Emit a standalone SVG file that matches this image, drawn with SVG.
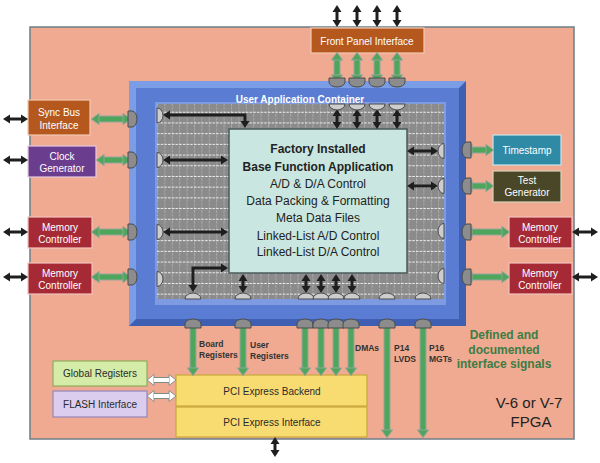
<svg xmlns="http://www.w3.org/2000/svg" xmlns:xlink="http://www.w3.org/1999/xlink" width="600" height="463" viewBox="0 0 600 463">
<style>
text{font-family:"Liberation Sans",Arial,sans-serif}
.wt{font-size:10px;fill:#fff;text-anchor:middle}
.dt{font-size:10px;fill:#2a2a2a;text-anchor:middle}
.ct{font-size:12px;fill:#222;text-anchor:middle}
.cb{font-weight:bold}
.lb{font-size:8.5px;font-weight:bold;fill:#333}
.gn{font-size:12px;font-weight:bold;fill:#3d7d45;text-anchor:middle}
.bk{fill:none;stroke:#1e1e1e;stroke-width:3;marker-start:url(#bh);marker-end:url(#bh)}
.gu{stroke:#9aa59c;stroke-width:7;fill:none}
.gt{stroke:#4ea55c;stroke-width:5;fill:none}
.d{marker-start:url(#gh);marker-end:url(#gh)}
.s{marker-end:url(#gh)}
.po{fill:#8c8c8c;stroke:#4a4a4a;stroke-width:1}
.pi{fill:#cdcdcd;stroke:#4a4a4a;stroke-width:1}
.box{stroke-width:1.2}
</style>
<defs>
<marker id="bh" markerUnits="userSpaceOnUse" viewBox="0 -5 7 10" markerWidth="7" markerHeight="10" refX="0" refY="0" orient="auto-start-reverse"><path d="M0,-4.5 L7,0 L0,4.5 z" fill="#1e1e1e"/></marker>
<marker id="gh" markerUnits="userSpaceOnUse" viewBox="-1 -7 10 14" markerWidth="10" markerHeight="14" refX="0" refY="0" orient="auto-start-reverse"><path d="M0,-5.5 L7.5,0 L0,5.5 z" fill="#4ea55c" stroke="#9aa59c" stroke-width="0.9"/></marker>
<marker id="wh" markerUnits="userSpaceOnUse" viewBox="-1 -7 10 14" markerWidth="10" markerHeight="14" refX="0" refY="0" orient="auto-start-reverse"><path d="M0,-5.5 L7,0 L0,5.5 z" fill="#fff" stroke="#7d8a8a" stroke-width="0.9"/></marker>
<pattern id="grid" patternUnits="userSpaceOnUse" x="157" y="104" width="7.4" height="10.7">
<rect width="7.4" height="10.7" fill="#8b8b8b"/>
<line x1="0.5" y1="0" x2="0.5" y2="10.7" stroke="#b4b4b4" stroke-width="0.8" stroke-dasharray="2,1.2"/>
<line x1="0" y1="8.3" x2="7.4" y2="8.3" stroke="#f2f2f2" stroke-width="1" stroke-dasharray="2.5,1.2"/>
</pattern>
<g id="gl">
<line class="d" x1="99" y1="119" x2="123" y2="119"/>
<line class="d" x1="104" y1="160" x2="123" y2="160"/>
<line class="d" x1="99" y1="232" x2="123" y2="232"/>
<line class="d" x1="99" y1="277" x2="123" y2="277"/>
<line class="d" x1="472" y1="150" x2="486" y2="150"/>
<line class="d" x1="472" y1="186" x2="486" y2="186"/>
<line class="d" x1="472" y1="232" x2="502" y2="232"/>
<line class="d" x1="472" y1="277" x2="502" y2="277"/>
<line class="d" x1="337" y1="60" x2="337" y2="75"/>
<line class="d" x1="357" y1="60" x2="357" y2="75"/>
<line class="d" x1="377" y1="60" x2="377" y2="75"/>
<line class="d" x1="397" y1="60" x2="397" y2="75"/>
<line class="s" x1="193" y1="322" x2="193" y2="368"/>
<line class="s" x1="243" y1="322" x2="243" y2="368"/>
<line class="s" x1="305" y1="322" x2="305" y2="368"/>
<line class="s" x1="321" y1="322" x2="321" y2="368"/>
<line class="s" x1="336" y1="322" x2="336" y2="368"/>
<line class="s" x1="351" y1="322" x2="351" y2="368"/>
<line class="s" x1="387" y1="322" x2="387" y2="430"/>
<line class="s" x1="423" y1="322" x2="423" y2="430"/>
</g>
</defs>

<g id="fpga">
<rect x="30" y="27" width="544" height="412" fill="#efaa91" stroke="#6e7d88" stroke-width="1.5"/>
<text x="529" y="408" font-size="15" fill="#222" text-anchor="middle">V-6 or V-7</text>
<text x="531" y="427" font-size="15" fill="#222" text-anchor="middle">FPGA</text>
</g>

<g id="container">
<rect x="129" y="81" width="337" height="245" fill="#3f60b2"/>
<polygon points="129,81 466,81 459,88 136,88 136,319 129,326" fill="#7b9de6"/>
<rect x="136" y="88" width="323" height="231" fill="#5a7dd3"/>
<rect x="155" y="102" width="291" height="203" fill="#7e9be2"/>
<rect x="157" y="104" width="287" height="195" fill="url(#grid)"/>
<text x="300" y="103" font-size="10" font-weight="bold" fill="#fff" text-anchor="middle">User Application Container</text>
</g>

<g id="base-function">
<rect x="229" y="129" width="178" height="144" fill="#c9e7e0" stroke="#4a5a58" stroke-width="1.5"/>
<text class="ct cb" x="318" y="153">Factory Installed</text>
<text class="ct cb" x="318" y="171">Base Function Application</text>
<text class="ct" x="318" y="188">A/D &amp; D/A Control</text>
<text class="ct" x="318" y="205">Data Packing &amp; Formatting</text>
<text class="ct" x="318" y="222">Meta Data Files</text>
<text class="ct" x="318" y="240">Linked-List A/D Control</text>
<text class="ct" x="318" y="256">Linked-List D/A Control</text>
</g>

<g id="front-panel">
<rect class="box" x="311" y="28" width="113" height="25" fill="#b4581e" stroke="#f4c9b2"/>
<text class="wt" x="367" y="45">Front Panel Interface</text>
</g>
<g id="sync-bus">
<rect class="box" x="28" y="100" width="62" height="35" fill="#b4581e" stroke="#f4c9b2"/>
<text class="wt" x="59" y="116">Sync Bus</text>
<text class="wt" x="59" y="129">Interface</text>
</g>
<g id="clock-gen">
<rect class="box" x="28" y="146" width="68" height="31" fill="#6a3d8f" stroke="#e9c8e0"/>
<text class="wt" x="62" y="160">Clock</text>
<text class="wt" x="62" y="172">Generator</text>
</g>
<g id="mem-ctrl-l1">
<rect class="box" x="28" y="217" width="64" height="31" fill="#a52a36" stroke="#f2c4bc"/>
<text class="wt" x="60" y="231">Memory</text>
<text class="wt" x="60" y="243">Controller</text>
</g>
<g id="mem-ctrl-l2">
<rect class="box" x="28" y="263" width="64" height="31" fill="#a52a36" stroke="#f2c4bc"/>
<text class="wt" x="60" y="277">Memory</text>
<text class="wt" x="60" y="289">Controller</text>
</g>
<g id="timestamp">
<rect class="box" x="493" y="135" width="68" height="30" fill="#2f8aa6" stroke="#c8e4ec"/>
<text class="wt" x="527" y="154">Timestamp</text>
</g>
<g id="test-gen">
<rect class="box" x="493" y="171" width="68" height="31" fill="#4a4628" stroke="#d8d2b8"/>
<text class="wt" x="527" y="184">Test</text>
<text class="wt" x="527" y="196">Generator</text>
</g>
<g id="mem-ctrl-r1">
<rect class="box" x="509" y="217" width="63" height="31" fill="#a52a36" stroke="#f2c4bc"/>
<text class="wt" x="540" y="231">Memory</text>
<text class="wt" x="540" y="243">Controller</text>
</g>
<g id="mem-ctrl-r2">
<rect class="box" x="509" y="263" width="63" height="31" fill="#a52a36" stroke="#f2c4bc"/>
<text class="wt" x="540" y="277">Memory</text>
<text class="wt" x="540" y="289">Controller</text>
</g>
<g id="global-registers">
<rect class="box" x="53" y="361" width="94" height="25" fill="#d5eba8" stroke="#8fae5e"/>
<text class="dt" x="100" y="377">Global Registers</text>
</g>
<g id="flash-interface">
<rect class="box" x="53" y="391" width="94" height="26" fill="#dacdee" stroke="#9486b8"/>
<text class="dt" x="100" y="408">FLASH Interface</text>
</g>
<g id="pci-backend">
<rect class="box" x="176" y="375" width="191" height="31" fill="#f8dc72" stroke="#c9a83a"/>
<text class="dt" x="272" y="395" font-size="10.5">PCI Express Backend</text>
</g>
<g id="pci-interface">
<rect class="box" x="176" y="407" width="191" height="30" fill="#f8dc72" stroke="#c9a83a"/>
<text class="dt" x="272" y="426" font-size="10.5">PCI Express Interface</text>
</g>

<g id="connectors">
<use xlink:href="#gl" href="#gl" class="gu"/>
<use xlink:href="#gl" href="#gl" class="gt"/>
<line x1="154" y1="380" x2="169" y2="380" stroke="#7d8a8a" stroke-width="6" marker-start="url(#wh)" marker-end="url(#wh)"/>
<line x1="154" y1="380" x2="169" y2="380" stroke="#fff" stroke-width="4"/>
<line x1="154" y1="396" x2="169" y2="396" stroke="#7d8a8a" stroke-width="6" marker-start="url(#wh)" marker-end="url(#wh)"/>
<line x1="154" y1="396" x2="169" y2="396" stroke="#fff" stroke-width="4"/>
<line class="bk" x1="10" y1="119" x2="21" y2="119"/>
<line class="bk" x1="10" y1="160" x2="21" y2="160"/>
<line class="bk" x1="10" y1="232" x2="21" y2="232"/>
<line class="bk" x1="10" y1="277" x2="21" y2="277"/>
<line class="bk" x1="579" y1="232" x2="591" y2="232"/>
<line class="bk" x1="579" y1="277" x2="591" y2="277"/>
<line class="bk" x1="337" y1="12" x2="337" y2="20"/>
<line class="bk" x1="357" y1="12" x2="357" y2="20"/>
<line class="bk" x1="377" y1="12" x2="377" y2="20"/>
<line class="bk" x1="397" y1="12" x2="397" y2="20"/>
<line class="bk" x1="275" y1="444" x2="275" y2="450"/>
<path class="bk" d="M170,115 H245 V121"/>
<line class="bk" x1="170" y1="160" x2="221" y2="160"/>
<line class="bk" x1="170" y1="232" x2="221" y2="232"/>
<path class="bk" d="M193,285 V268 H221"/>
<line class="bk" x1="243" y1="281" x2="243" y2="286"/>
<line class="bk" x1="306" y1="281" x2="306" y2="286"/>
<line class="bk" x1="321" y1="281" x2="321" y2="286"/>
<line class="bk" x1="336" y1="281" x2="336" y2="286"/>
<line class="bk" x1="352" y1="281" x2="352" y2="286"/>
<line class="bk" x1="337" y1="116" x2="337" y2="122"/>
<line class="bk" x1="357" y1="116" x2="357" y2="122"/>
<line class="bk" x1="377" y1="116" x2="377" y2="122"/>
<line class="bk" x1="397" y1="116" x2="397" y2="122"/>
<line class="bk" x1="414" y1="151" x2="431" y2="151"/>
<line class="bk" x1="414" y1="186" x2="431" y2="186"/>
</g>

<g id="plugs">
<path class="po" d="M128,111 h4 a5,8 0 0 1 0,16 h-4 z"/>
<path class="po" d="M128,152 h4 a5,8 0 0 1 0,16 h-4 z"/>
<path class="po" d="M128,224 h4 a5,8 0 0 1 0,16 h-4 z"/>
<path class="po" d="M128,269 h4 a5,8 0 0 1 0,16 h-4 z"/>
<path class="po" d="M471,142 h-4 a5,8 0 0 0 0,16 h4 z"/>
<path class="po" d="M471,178 h-4 a5,8 0 0 0 0,16 h4 z"/>
<path class="po" d="M471,224 h-4 a5,8 0 0 0 0,16 h4 z"/>
<path class="po" d="M471,269 h-4 a5,8 0 0 0 0,16 h4 z"/>
<path class="po" d="M329,78 h16 v4 a8,5 0 0 1 -16,0 z"/>
<path class="po" d="M349,78 h16 v4 a8,5 0 0 1 -16,0 z"/>
<path class="po" d="M369,78 h16 v4 a8,5 0 0 1 -16,0 z"/>
<path class="po" d="M389,78 h16 v4 a8,5 0 0 1 -16,0 z"/>
<path class="po" d="M185,328 v-4 a8,5 0 0 1 16,0 v4 z"/>
<path class="po" d="M235,328 v-4 a8,5 0 0 1 16,0 v4 z"/>
<path class="po" d="M297,328 v-4 a8,5 0 0 1 16,0 v4 z"/>
<path class="po" d="M313,328 v-4 a8,5 0 0 1 16,0 v4 z"/>
<path class="po" d="M328,328 v-4 a8,5 0 0 1 16,0 v4 z"/>
<path class="po" d="M343,328 v-4 a8,5 0 0 1 16,0 v4 z"/>
<path class="po" d="M379,328 v-4 a8,5 0 0 1 16,0 v4 z"/>
<path class="po" d="M415,328 v-4 a8,5 0 0 1 16,0 v4 z"/>
<path class="pi" d="M157,108 a6,7.5 0 0 1 0,15 z"/>
<path class="pi" d="M157,152.5 a6,7.5 0 0 1 0,15 z"/>
<path class="pi" d="M157,224.5 a6,7.5 0 0 1 0,15 z"/>
<path class="pi" d="M157,271.5 a6,7.5 0 0 1 0,15 z"/>
<path class="pi" d="M444,143.5 a6,7.5 0 0 0 0,15 z"/>
<path class="pi" d="M444,178.5 a6,7.5 0 0 0 0,15 z"/>
<path class="pi" d="M444,223.5 a6,7.5 0 0 0 0,15 z"/>
<path class="pi" d="M444,268.5 a6,7.5 0 0 0 0,15 z"/>
<path class="pi" d="M329,104 a8,6 0 0 0 16,0 z"/>
<path class="pi" d="M349,104 a8,6 0 0 0 16,0 z"/>
<path class="pi" d="M369,104 a8,6 0 0 0 16,0 z"/>
<path class="pi" d="M389,104 a8,6 0 0 0 16,0 z"/>
<path class="pi" d="M185,299 a8,6 0 0 1 16,0 z"/>
<path class="pi" d="M235,299 a8,6 0 0 1 16,0 z"/>
<path class="pi" d="M298,299 a8,6 0 0 1 16,0 z"/>
<path class="pi" d="M313,299 a8,6 0 0 1 16,0 z"/>
<path class="pi" d="M328,299 a8,6 0 0 1 16,0 z"/>
<path class="pi" d="M344,299 a8,6 0 0 1 16,0 z"/>
<path class="pi" d="M379,299 a8,6 0 0 1 16,0 z"/>
<path class="pi" d="M415,299 a8,6 0 0 1 16,0 z"/>
</g>

<g id="labels">
<text class="lb" x="199" y="347">Board</text>
<text class="lb" x="199" y="358">Registers</text>
<text class="lb" x="250" y="348">User</text>
<text class="lb" x="250" y="359">Registers</text>
<text class="lb" x="355" y="351">DMAs</text>
<text class="lb" x="394" y="351">P14</text>
<text class="lb" x="394" y="362">LVDS</text>
<text class="lb" x="429" y="351">P16</text>
<text class="lb" x="429" y="362">MGTs</text>
<text class="gn" x="504" y="339">Defined and</text>
<text class="gn" x="504" y="354">documented</text>
<text class="gn" x="504" y="368">interface signals</text>
</g>
</svg>
